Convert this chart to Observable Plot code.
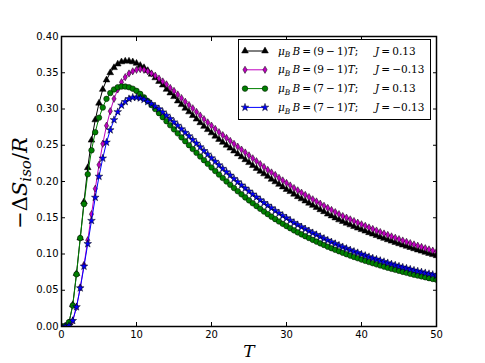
<!DOCTYPE html>
<html>
<head>
<meta charset="utf-8">
<script src="https://cdn.jsdelivr.net/npm/d3@7"></script>
<script src="https://cdn.jsdelivr.net/npm/@observablehq/plot@0.6"></script>
<style>
  body { margin: 0; background: #fff; }
  #chart { width: 485px; height: 363px; }
</style>
</head>
<body>
<div id="chart"></div>
<script>
// ---- data ----
const T = [0,0.5,1,1.5,2,2.5,3,3.5,4,4.5,5,5.5,6,6.5,7,7.5,8,8.5,9,9.5,10,
  10.5,11,11.5,12,12.5,13,13.5,14,14.5,15,15.5,16,16.5,17,17.5,18,18.5,19,19.5,20,
  20.5,21,21.5,22,22.5,23,23.5,24,24.5,25,25.5,26,26.5,27,27.5,28,28.5,29,29.5,30,
  30.5,31,31.5,32,32.5,33,33.5,34,34.5,35,35.5,36,36.5,37,37.5,38,38.5,39,39.5,40,
  40.5,41,41.5,42,42.5,43,43.5,44,44.5,45,45.5,46,46.5,47,47.5,48,48.5,49,49.5,50];

// mu_B B = (9-1)T, J = 0.13
const s91Jpos = [0,0.000,0.005,0.030,0.073,0.122,0.172,0.219,0.257,0.285,0.308,0.327,0.340,0.350,0.357,0.362,0.365,0.366,0.366,0.365,0.363,
  0.360,0.357,0.353,0.348,0.343,0.338,0.333,0.327,0.322,0.317,0.311,0.306,0.301,0.296,0.291,0.286,0.281,0.276,0.2715,0.267,
  0.2625,0.258,0.254,0.250,0.246,0.242,0.238,0.234,0.230,0.226,0.222,0.218,0.214,0.2105,0.207,0.203,0.1995,0.196,0.1925,0.189,
  0.186,0.1825,0.179,0.176,0.173,0.170,0.167,0.164,0.161,0.1583,0.155,0.1525,0.1497,0.147,0.1447,0.1424,0.1401,0.1379,0.1357,0.1336,
  0.1315,0.1294,0.1274,0.1254,0.1234,0.1215,0.1196,0.1177,0.1159,0.1141,0.1123,0.1106,0.1089,0.1072,0.1055,0.1039,0.1023,0.1007,0.0991,0.0976];

// mu_B B = (9-1)T, J = -0.13
const s91Jneg = [0,0.000,0.001,0.008,0.027,0.054,0.085,0.119,0.155,0.190,0.223,0.252,0.277,0.297,0.314,0.327,0.337,0.344,0.349,0.352,0.354,
  0.355,0.354,0.352,0.349,0.346,0.342,0.338,0.334,0.329,0.325,0.320,0.315,0.310,0.3055,0.301,0.296,0.291,0.286,0.2815,0.277,
  0.2725,0.268,0.264,0.260,0.256,0.252,0.248,0.244,0.240,0.236,0.232,0.228,0.224,0.220,0.216,0.2125,0.209,0.205,0.2015,0.198,
  0.1945,0.191,0.1878,0.1846,0.1815,0.1785,0.1755,0.1725,0.1695,0.1665,0.1636,0.1607,0.1578,0.155,0.1524,0.1501,0.1478,0.1455,0.1432,0.141,
  0.1388,0.1366,0.1345,0.1324,0.1303,0.1283,0.1263,0.1243,0.1224,0.1205,0.1186,0.1168,0.115,0.1132,0.1114,0.1097,0.108,0.1063,0.1047,0.1031];

// mu_B B = (7-1)T, J = 0.13
const s71Jpos = [0,0.001,0.006,0.029,0.072,0.122,0.169,0.210,0.243,0.268,0.288,0.302,0.314,0.322,0.327,0.330,0.331,0.331,0.330,0.328,0.325,
  0.3208,0.316,0.3108,0.3054,0.2999,0.2943,0.2887,0.2831,0.2775,0.2719,0.2664,0.2609,0.2555,0.2501,0.2448,0.2396,0.2345,0.2294,0.2244,0.2194,
  0.2145,0.2096,0.2048,0.2001,0.1955,0.1910,0.1866,0.1823,0.1781,0.1740,0.1700,0.1661,0.1623,0.1586,0.1550,0.1515,0.1481,0.1448,0.1416,0.1385,
  0.1355,0.1326,0.1298,0.1271,0.1245,0.1220,0.1195,0.1171,0.1147,0.1124,0.1101,0.1079,0.1058,0.1037,0.1017,0.0997,0.0978,0.0959,0.0941,0.0923,
  0.0906,0.0889,0.0873,0.0857,0.0841,0.0826,0.0811,0.0796,0.0782,0.0768,0.0754,0.0741,0.0728,0.0715,0.0703,0.0691,0.0679,0.0667,0.0656,0.0645];

// mu_B B = (7-1)T, J = -0.13
const s71Jneg = [0,0.000,0.001,0.008,0.027,0.053,0.083,0.114,0.146,0.178,0.207,0.232,0.254,0.271,0.285,0.296,0.305,0.310,0.314,0.316,0.316,
  0.315,0.313,0.310,0.307,0.3035,0.300,0.2957,0.2911,0.2865,0.2819,0.2772,0.2724,0.2675,0.2626,0.2576,0.2526,0.2475,0.2424,0.2374,0.2324,
  0.2275,0.2226,0.2178,0.2131,0.2085,0.2039,0.1994,0.195,0.1907,0.1865,0.1824,0.1784,0.1745,0.1707,0.167,0.1634,0.1598,0.1563,0.1529,0.1495,
  0.1463,0.1432,0.1402,0.1373,0.1345,0.1318,0.1291,0.1265,0.1239,0.1214,0.1189,0.1165,0.1142,0.1119,0.1097,0.1075,0.1055,0.1035,0.1016,0.0996,
  0.0978,0.096,0.0943,0.0926,0.0909,0.0893,0.0877,0.0861,0.0846,0.0831,0.0817,0.0803,0.0789,0.0775,0.0763,0.0751,0.0739,0.0727,0.0716,0.0705];

const seriesValues = [s91Jpos, s91Jneg, s71Jpos, s71Jneg];
const fieldLabels = ["9", "9", "7", "7"];
const jLabels = ["0.13", "\u22120.13", "0.13", "\u22120.13"];
const xTicks = [0, 10, 20, 30, 40, 50];
const yTicks = [0, 0.05, 0.10, 0.15, 0.20, 0.25, 0.30, 0.35, 0.40];

// ---- styles ----
const colors = ["#000000", "#bf00bf", "#008000", "#0000ff"];
const symbols = ["triangle", "diamond", "circle", "star"];
const d3symbols = [d3.symbolTriangle, d3.symbolDiamond, d3.symbolCircle, d3.symbolStar];
const radii = [2.5, 2.2, 2.8, 2.4];

const tables = seriesValues.map(vals => T.map((t, i) => ({T: t, S: vals[i]})));

const marks = [];
tables.forEach((tab, k) => {
  marks.push(Plot.line(tab, {x: "T", y: "S", stroke: colors[k], strokeWidth: 1, clip: true}));
  marks.push(Plot.dot(tab, {x: "T", y: "S", symbol: symbols[k], r: radii[k], fill: colors[k],
    stroke: "black", strokeWidth: 0.5, clip: true}));
});

const tk = 4;
const chart = Plot.plot({
  width: 485, height: 363,
  marginLeft: 61, marginRight: 49, marginTop: 36, marginBottom: 37,
  style: {fontFamily: "DejaVu Sans", fontSize: "10px", color: "black", background: "white", overflow: "visible"},
  x: {domain: [0, 50]},
  y: {domain: [0, 0.4]},
  marks: [
    ...marks,
    Plot.axisX(xTicks, {anchor: "bottom", tickSize: 0, tickPadding: 4, tickFormat: d => String(d), label: null}),
    Plot.axisY(yTicks, {anchor: "left", tickSize: 0, tickPadding: 3, tickFormat: d => d.toFixed(2), label: null}),
    Plot.axisX(xTicks, {anchor: "bottom", tickSize: tk, dy: -tk, fill: "none", strokeWidth: 1}),
    Plot.axisX(xTicks, {anchor: "top", tickSize: tk, dy: tk, fill: "none", strokeWidth: 1}),
    Plot.axisY(yTicks, {anchor: "left", tickSize: tk, dx: tk, fill: "none", strokeWidth: 1}),
    Plot.axisY(yTicks, {anchor: "right", tickSize: tk, dx: -tk, fill: "none", strokeWidth: 1}),
    Plot.frame({stroke: "black", strokeWidth: 1.5})
  ]
});
document.getElementById("chart").appendChild(chart);

const svg = d3.select(chart);
const mathFont = "DejaVu Serif";

// y label: -ΔS_iso/R
const yl = svg.append("text")
  .attr("transform", "translate(27,183) rotate(-90)")
  .attr("text-anchor", "middle")
  .attr("font-family", mathFont).attr("font-size", 21).attr("fill", "black");
yl.append("tspan").text("\u2212\u0394");
yl.append("tspan").attr("font-style", "italic").text("S");
yl.append("tspan").attr("font-style", "italic").attr("font-size", 15).attr("dy", 4).text("iso");
yl.append("tspan").attr("dy", -4).text("/");
yl.append("tspan").attr("font-style", "italic").text("R");

// x label: T
svg.append("text")
  .attr("x", 249).attr("y", 357)
  .attr("text-anchor", "middle")
  .attr("font-family", mathFont).attr("font-size", 17).attr("font-style", "italic")
  .attr("fill", "black").text("T");

// legend
const lg = svg.append("g").attr("text-anchor", "start");
lg.append("rect").attr("x", 238.5).attr("y", 39.5).attr("width", 192).attr("height", 80)
  .attr("fill", "white").attr("stroke", "black").attr("stroke-width", 1);
seriesValues.forEach((_, k) => {
  const cy = 51 + k * 18.8;
  lg.append("line").attr("x1", 245).attr("x2", 265).attr("y1", cy).attr("y2", cy)
    .attr("stroke", colors[k]).attr("stroke-width", 1);
  [245, 265].forEach(cx => {
    lg.append("path").attr("d", d3.symbol(d3symbols[k], Math.PI * radii[k] * radii[k])())
      .attr("transform", `translate(${cx},${cy})`)
      .attr("fill", colors[k]).attr("stroke", "black").attr("stroke-width", 0.5);
  });
  const t = lg.append("text").attr("x", 278).attr("y", cy + 3.6).attr("text-anchor", "start")
    .attr("font-family", mathFont).attr("font-size", 10.5).attr("fill", "black");
  t.append("tspan").attr("font-style", "italic").text("\u03bc");
  t.append("tspan").attr("font-style", "italic").attr("font-size", 7.5).attr("dy", 2.5).text("B");
  t.append("tspan").attr("dy", -2.5).text("\u2009");
  t.append("tspan").attr("font-style", "italic").text("B");
  t.append("tspan").text(`\u2009=\u2009(${fieldLabels[k]}\u2009\u2212\u20091)`);
  t.append("tspan").attr("font-style", "italic").text("T");
  t.append("tspan").text(";");
  const t2 = lg.append("text").attr("x", 375).attr("y", cy + 3.6).attr("text-anchor", "start")
    .attr("font-family", mathFont).attr("font-size", 10.5).attr("fill", "black");
  t2.append("tspan").attr("font-style", "italic").text("J");
  t2.append("tspan").text(`\u2009=\u2009${jLabels[k]}`);
});
</script>
</body>
</html>
